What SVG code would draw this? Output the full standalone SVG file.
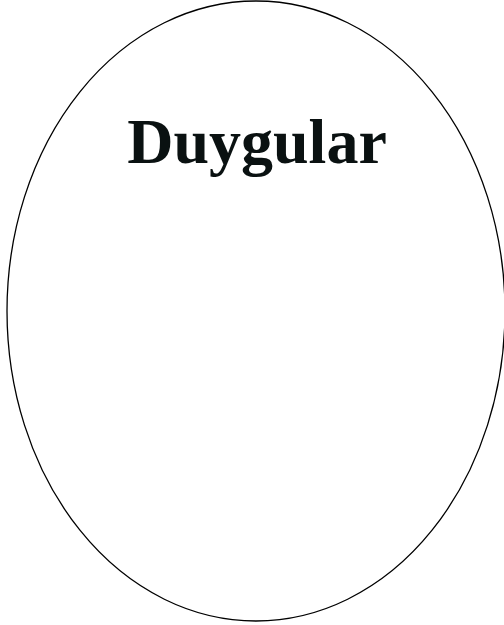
<svg xmlns="http://www.w3.org/2000/svg" width="504" height="625" viewBox="0 0 504 625">
<style>
.shape{fill:#fff;stroke:#000;stroke-width:1.3}
.label{font-family:"Liberation Serif","Times New Roman",serif;font-weight:bold;font-size:64px;fill:#0a1111}
</style>
<rect width="504" height="625" fill="#fff"/>
<g id="node-duygular">
<ellipse class="shape" cx="256" cy="311" rx="249" ry="310"/>
<text class="label" x="257" y="163" text-anchor="middle">Duygular</text>
</g>
<g id="connectors"/>
</svg>
